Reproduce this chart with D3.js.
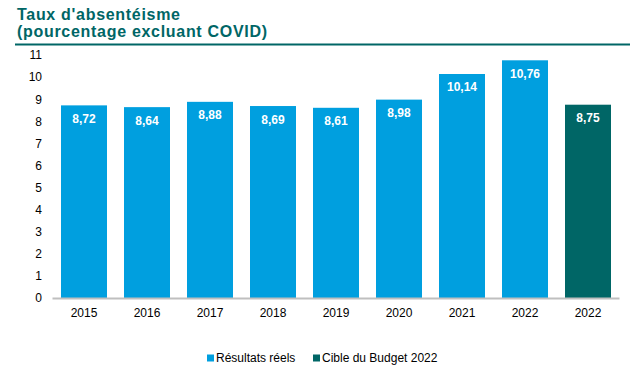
<!DOCTYPE html>
<html><head><meta charset="utf-8">
<script src="https://cdn.jsdelivr.net/npm/d3@7"></script>
<style>body{margin:0;background:#fff}svg{display:block}</style>
</head><body>
<svg id="c" width="639" height="382"></svg>
<script>
const categories = ["2015","2016","2017","2018","2019","2020","2021","2022","2022 "];
const values = [8.72, 8.64, 8.88, 8.69, 8.61, 8.98, 10.14, 10.76, 8.75];
const seriesOf = ["Résultats réels","Résultats réels","Résultats réels","Résultats réels","Résultats réels","Résultats réels","Résultats réels","Résultats réels","Cible du Budget 2022"];
const seriesNames = ["Résultats réels","Cible du Budget 2022"];
const seriesColors = ["#009fdf","#006666"];
const yTicks = [0,1,2,3,4,5,6,7,8,9,10,11];
const titleLines = ["Taux d'absentéisme","(pourcentage excluant COVID)"];

const svg = d3.select("#c");
const font = "'Liberation Sans', Arial, sans-serif";
const color = d3.scaleOrdinal().domain(seriesNames).range(seriesColors);

// title
svg.append("g").selectAll("text").data(titleLines).join("text")
  .attr("x", 17).attr("y", (d,i) => 20 + i*17)
  .attr("font-family", font).attr("font-size", 16).attr("font-weight", "bold")
  .attr("letter-spacing", 0.7)
  .attr("fill", "#006666").text(d => d);
svg.append("line").attr("x1", 15).attr("x2", 630).attr("y1", 44.5).attr("y2", 44.5)
  .attr("stroke", "#006666").attr("stroke-width", 2);

const x = d3.scaleBand().domain(categories).range([52.5, 619.5]).paddingInner(0.27).paddingOuter(0.135);
const y = d3.scaleLinear().domain([0, 11]).range([298, 55]);

// y axis
const ya = svg.append("g").attr("transform", "translate(42,0)")
  .call(d3.axisLeft(y).tickValues(yTicks).tickSize(0).tickPadding(0));
ya.select(".domain").remove();
ya.selectAll("text").attr("font-family", font).attr("font-size", 12).attr("fill", "#000");

// bars
svg.append("g").selectAll("rect").data(values).join("rect")
  .attr("x", (d,i) => x(categories[i])).attr("width", x.bandwidth())
  .attr("y", d => y(d)).attr("height", d => y(0) - y(d))
  .attr("fill", (d,i) => color(seriesOf[i]));

// labels
svg.append("g").selectAll("text").data(values).join("text")
  .attr("x", (d,i) => x(categories[i]) + x.bandwidth()/2)
  .attr("y", d => y(d) + 17.5)
  .attr("text-anchor", "middle").attr("font-family", font).attr("font-size", 12)
  .attr("font-weight", "bold").attr("fill", "#fff")
  .text(d => d3.format(".2f")(d).replace(".", ","));

// x axis
const xa = svg.append("g").attr("transform", `translate(0,${y(0)})`)
  .call(d3.axisBottom(x).tickSize(0).tickPadding(10));
xa.select(".domain").attr("stroke", "#bfbfbf").attr("stroke-width", 2)
  .attr("d", `M52.5,0.5H619.5`);
xa.selectAll("text").attr("font-family", font).attr("font-size", 12).attr("fill", "#000")
  .text(d => d.trim());

// legend
const legX = [207, 313];
const lg = svg.append("g").selectAll("g").data(seriesNames).join("g")
  .attr("transform", (d,i) => `translate(${legX[i]},362)`);
lg.append("rect").attr("x", 0).attr("y", -7.5).attr("width", 7).attr("height", 7).attr("fill", d => color(d));
lg.append("text").attr("x", 9).attr("y", 0).attr("font-family", font).attr("font-size", 12)
  .attr("fill", "#000").text(d => d);
</script>
</body></html>
